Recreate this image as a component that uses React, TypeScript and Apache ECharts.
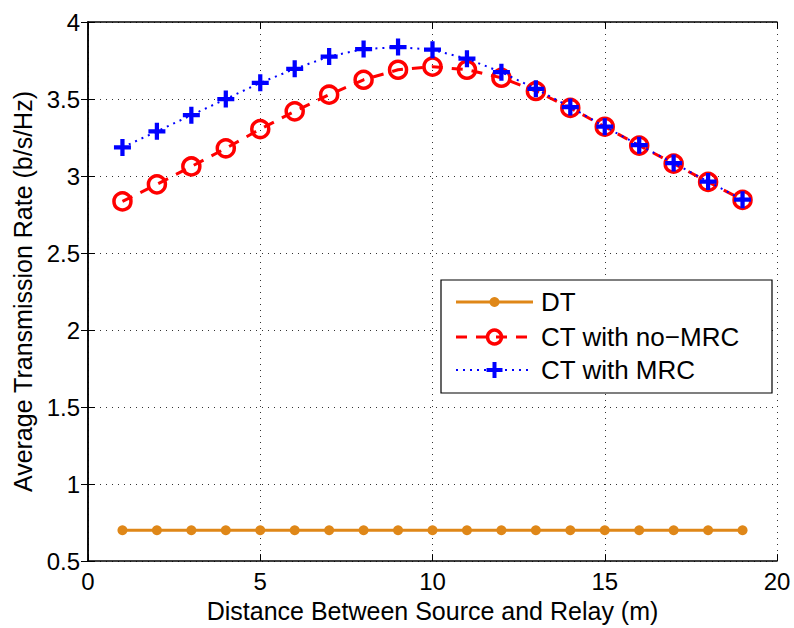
import React, { useEffect, useRef } from "react";
import * as echarts from "echarts";

const distances = [1, 2, 3, 4, 5, 6, 7, 8, 9, 10, 11, 12, 13, 14, 15, 16, 17, 18, 19];
const dtValues = [0.7, 0.7, 0.7, 0.7, 0.7, 0.7, 0.7, 0.7, 0.7, 0.7, 0.7, 0.7, 0.7, 0.7, 0.7, 0.7, 0.7, 0.7, 0.7];
const ctNoMrcValues = [2.835, 2.946, 3.062, 3.18, 3.305, 3.42, 3.528, 3.625, 3.69, 3.71, 3.69, 3.638, 3.552, 3.442, 3.32, 3.198, 3.08, 2.962, 2.845];
const ctMrcValues = [3.186, 3.29, 3.395, 3.5, 3.605, 3.696, 3.776, 3.824, 3.837, 3.82, 3.762, 3.674, 3.566, 3.448, 3.32, 3.2, 3.084, 2.964, 2.846];
const seriesNames = ["DT", "CT with no\u2212MRC", "CT with MRC"];
const xLabel = "Distance Between Source and Relay (m)";
const yLabel = "Average Transmission Rate (b/s/Hz)";

const FONT = "'Liberation Sans', Arial, Helvetica, sans-serif";
const PLUS = "path://M6,0H10V6H16V10H10V16H6V10H0V6H6Z";
const ORANGE = "#df8718";
const RED = "#ff0000";
const BLUE = "#0000ff";

const pair = (ys: number[]) => distances.map((x, i) => [x, ys[i]]);

function legendGraphic() {
  const L = 441, T = 280, W = 331, H = 113;
  const x0 = 456, x1 = 533, cx = (x0 + x1) / 2, tx = 541;
  const rows = [302, 337, 370];
  const els: any[] = [
    { type: "rect", shape: { x: L, y: T, width: W, height: H }, style: { fill: "#fff", stroke: "#000", lineWidth: 1.2 }, z: 100 },
    // DT
    { type: "line", shape: { x1: x0, y1: rows[0], x2: x1, y2: rows[0] }, style: { stroke: ORANGE, lineWidth: 3 }, z: 101 },
    { type: "circle", shape: { cx, cy: rows[0], r: 5 }, style: { fill: ORANGE }, z: 102 },
    // CT no-MRC
    { type: "line", shape: { x1: x0, y1: rows[1], x2: x1, y2: rows[1] }, style: { stroke: RED, lineWidth: 3, lineDash: [11, 9] }, z: 101 },
    { type: "circle", shape: { cx, cy: rows[1], r: 7 }, style: { fill: "rgba(255,255,255,0)", stroke: RED, lineWidth: 3.5 }, z: 102 },
    // CT MRC
    { type: "line", shape: { x1: x0, y1: rows[2], x2: x1, y2: rows[2] }, style: { stroke: BLUE, lineWidth: 2, lineDash: [2, 5] }, z: 101 },
    { type: "rect", shape: { x: cx - 8, y: rows[2] - 2, width: 16, height: 4 }, style: { fill: BLUE }, z: 102 },
    { type: "rect", shape: { x: cx - 2, y: rows[2] - 8, width: 4, height: 16 }, style: { fill: BLUE }, z: 102 },
  ];
  seriesNames.forEach((n, i) => {
    els.push({
      type: "text", x: tx, y: rows[i], z: 103,
      style: { text: n, fill: "#000", font: `26px ${FONT}`, textVerticalAlign: "middle", verticalAlign: "middle", align: "left" },
    });
  });
  return els;
}

export default function App() {
  const ref = useRef<HTMLDivElement>(null);
  useEffect(() => {
    if (!ref.current) return;
    const chart = echarts.init(ref.current, undefined, { renderer: "svg" });
    const gridLine = { show: true, lineStyle: { color: "#333", type: [1, 5] as any, width: 1 } };
    const tick = { show: true, inside: true, length: 7, lineStyle: { color: "#000", width: 1 } };
    chart.setOption({
      animation: false,
      backgroundColor: "#fff",
      textStyle: { fontFamily: FONT },
      grid: { left: 88, right: 17, top: 22, bottom: 63, containLabel: false },
      xAxis: [
        {
          type: "value", min: 0, max: 20, interval: 5, position: "bottom",
          name: xLabel, nameLocation: "middle", nameGap: 36,
          nameTextStyle: { fontSize: 25, color: "#000", fontFamily: FONT },
          axisLine: { show: true, lineStyle: { color: "#000", width: 1.5 } },
          axisTick: tick,
          axisLabel: { fontSize: 24, color: "#000", margin: 8, fontFamily: FONT },
          splitLine: gridLine,
        },
        {
          type: "value", min: 0, max: 20, interval: 5, position: "top",
          axisLine: { show: true, lineStyle: { color: "#000", width: 1.5 } },
          axisTick: tick, axisLabel: { show: false }, splitLine: { show: false },
        },
      ],
      yAxis: [
        {
          type: "value", min: 0.5, max: 4, interval: 0.5, position: "left",
          name: yLabel, nameLocation: "middle", nameGap: 52, nameRotate: 90,
          nameTextStyle: { fontSize: 25, color: "#000", fontFamily: FONT },
          axisLine: { show: true, lineStyle: { color: "#000", width: 1.5 } },
          axisTick: tick,
          axisLabel: { fontSize: 24, color: "#000", margin: 8, fontFamily: FONT },
          splitLine: gridLine,
        },
        {
          type: "value", min: 0.5, max: 4, interval: 0.5, position: "right",
          axisLine: { show: true, lineStyle: { color: "#000", width: 1.5 } },
          axisTick: tick, axisLabel: { show: false }, splitLine: { show: false },
        },
      ],
      graphic: legendGraphic(),
      series: [
        {
          name: seriesNames[0], type: "line", data: pair(dtValues),
          symbol: "circle", symbolSize: 10,
          lineStyle: { color: ORANGE, width: 3 },
          itemStyle: { color: ORANGE },
          z: 2,
        },
        {
          name: seriesNames[1], type: "line", data: pair(ctNoMrcValues),
          symbol: "circle", symbolSize: 17,
          lineStyle: { color: RED, width: 3, type: [11, 9] as any },
          itemStyle: { color: "rgba(255,255,255,0)", borderColor: RED, borderWidth: 3.5 },
          z: 3,
        },
        {
          name: seriesNames[2], type: "line", data: pair(ctMrcValues),
          symbol: PLUS, symbolSize: 17,
          lineStyle: { color: BLUE, width: 2, type: [2, 5] as any },
          itemStyle: { color: BLUE, borderWidth: 0 },
          z: 4,
        },
      ],
    });
    return () => chart.dispose();
  }, []);
  return <div ref={ref} style={{ width: 794, height: 628, position: "absolute", left: 0, top: 0 }} />;
}
